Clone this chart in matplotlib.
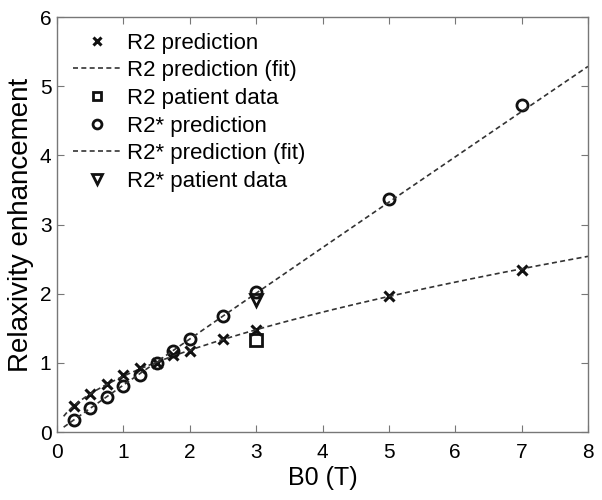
import numpy as np
import matplotlib
matplotlib.use("Agg")
import matplotlib.pyplot as plt

plt.rcParams['font.family'] = ['Liberation Sans', 'DejaVu Sans']

b0 = [0.25, 0.5, 0.75, 1.0, 1.25, 1.5, 1.75, 2.0, 2.5, 3.0, 5.0, 7.0]
r2_pred = [0.37, 0.55, 0.69, 0.82, 0.93, 1.00, 1.11, 1.17, 1.34, 1.47, 1.96, 2.34]
r2s_pred = [0.18, 0.34, 0.51, 0.66, 0.82, 1.00, 1.17, 1.34, 1.68, 2.02, 3.37, 4.73]
patient_b0 = [3.0]
r2_patient = [1.33]
r2s_patient = [1.91]

fig = plt.figure(figsize=(6.02, 5.0), dpi=100)
ax = fig.add_axes([57/602, 1 - 432/500, (588 - 57)/602, (432 - 17)/500])

xfit = np.linspace(0.1, 8, 200)
p2 = np.polyfit(np.log(b0), np.log(r2_pred), 1)
p2s = np.polyfit(np.log(b0), np.log(r2s_pred), 1)
fit2 = np.exp(np.polyval(p2, np.log(xfit)))
fit2s = np.exp(np.polyval(p2s, np.log(xfit)))

k = '#111111'
ax.plot(b0, r2_pred, ls='none', marker='x', ms=7, mew=2.2, color=k, label='R2 prediction')
ax.plot(xfit, fit2, ls=(0, (3, 2)), lw=1.2, color='#333333', label='R2 prediction (fit)')
ax.plot(patient_b0, r2_patient, ls='none', marker='s', ms=8, mew=2, mfc='none', color=k, label='R2 patient data')
ax.plot(b0, r2s_pred, ls='none', marker='o', ms=8, mew=2, mfc='none', color=k, label='R2* prediction')
ax.plot(xfit, fit2s, ls=(0, (3, 2)), lw=1.2, color='#333333', label='R2* prediction (fit)')
ax.plot(patient_b0, r2s_patient, ls='none', marker='v', ms=9, mew=2, mfc='none', color=k, label='R2* patient data')

ax.set_xlim(0, 8)
ax.set_ylim(0, 6)
ax.set_xticks(range(0, 9))
ax.set_yticks(range(0, 7))
ax.tick_params(direction='in', top=True, right=True, labelsize=15, length=5, color='#777777')
ax.tick_params(axis='x', pad=8)
ax.tick_params(axis='y', pad=4)
for s in ax.spines.values():
    s.set_color('#777777')
    s.set_linewidth(1.0)
ax.set_xlabel('B0 (T)', fontsize=18, labelpad=3)
ax.set_ylabel('Relaxivity enhancement', fontsize=20, labelpad=4)

leg = ax.legend(loc='upper left', frameon=False, fontsize=16, handlelength=2.2,
                handletextpad=0.25, labelspacing=0.3, borderpad=0.3, borderaxespad=0.4,
                bbox_to_anchor=(0.0, 1.0), markerscale=0.8)

fig.savefig('out.png', dpi=100)
